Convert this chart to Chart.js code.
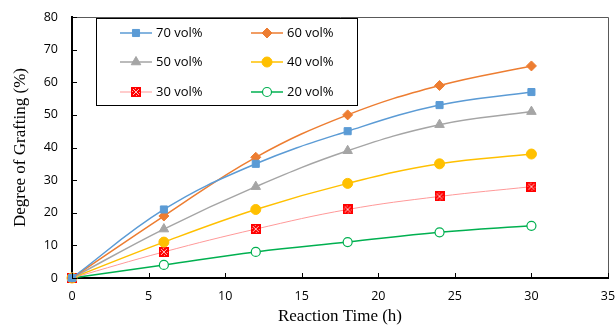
<!DOCTYPE html>
<html>
<head>
<meta charset="utf-8">
<script src="https://cdn.jsdelivr.net/npm/chart.js@4"></script>
<style>
  html, body { margin: 0; background: #fff; }
  #wrap { width: 616px; height: 329px; }
</style>
</head>
<body>
<div id="wrap"><canvas id="graftChart"></canvas></div>
<script>
const hours = [0, 6, 12, 18, 24, 30];
const seriesNames = ["70 vol%", "60 vol%", "50 vol%", "40 vol%", "30 vol%", "20 vol%"];
const vol70 = [0, 21, 35, 45, 53, 57];
const vol60 = [0, 19, 37, 50, 59, 65];
const vol50 = [0, 15, 28, 39, 47, 51];
const vol40 = [0, 11, 21, 29, 35, 38];
const vol30 = [0, 8, 15, 21, 25, 28];
const vol20 = [0, 4, 8, 11, 14, 16];

// red square with a light cross pattern for the 30 vol% marker
function hatchedSquare() {
  const c = document.createElement("canvas");
  c.width = 10;
  c.height = 10;
  const g = c.getContext("2d");
  g.fillStyle = "#ff0000";
  g.fillRect(0, 0, 10, 10);
  g.strokeStyle = "rgba(255,255,255,0.75)";
  g.lineWidth = 1;
  g.beginPath();
  g.moveTo(2, 2); g.lineTo(8, 8);
  g.moveTo(8, 2); g.lineTo(2, 8);
  g.stroke();
  g.fillStyle = "rgba(255,255,255,0.6)";
  [[1, 4], [4, 1], [8, 5], [5, 8]].forEach(([px, py]) => g.fillRect(px, py, 1, 1));
  return c;
}

const toPoints = (vals) => vals.map((v, i) => ({ x: hours[i], y: v }));

function series(name, vals, line, marker) {
  return Object.assign({
    label: name,
    data: toPoints(vals),
    borderColor: line,
    borderWidth: 1.5,
    tension: 0.4,
    clip: false,
    pointRadius: 4.5,
    pointBackgroundColor: line,
    pointBorderColor: line,
    pointBorderWidth: 1,
  }, marker);
}

const datasets = [
  series(seriesNames[0], vol70, "#5b9bd5", { pointStyle: "rect", pointRadius: 5 }),
  series(seriesNames[1], vol60, "#ed7d31", { pointStyle: "rectRot", pointRadius: 5 }),
  series(seriesNames[2], vol50, "#a5a5a5", { pointStyle: "triangle", pointRadius: 5.5 }),
  series(seriesNames[3], vol40, "#ffc000", { pointStyle: "circle", pointRadius: 5 }),
  series(seriesNames[4], vol30, "#ff9999", { pointStyle: hatchedSquare(), borderWidth: 1 }),
  series(seriesNames[5], vol20, "#00b050", { pointStyle: "circle", pointBackgroundColor: "#ffffff", pointBorderWidth: 1.2, pointRadius: 4.5 }),
];

// frame, inward tick marks and the boxed legend
const decorations = {
  id: "decorations",
  afterDraw(chart) {
    const { ctx, chartArea: a, scales } = chart;
    ctx.save();
    ctx.strokeStyle = "#595959";
    ctx.lineWidth = 1;
    ctx.beginPath();
    ctx.moveTo(a.left, a.top + 0.5);
    ctx.lineTo(a.right + 0.5, a.top + 0.5);
    ctx.lineTo(a.right + 0.5, a.bottom);
    ctx.stroke();

    ctx.strokeStyle = "#000";
    ctx.beginPath();
    scales.x.ticks.forEach((t) => {
      const px = Math.round(scales.x.getPixelForValue(t.value)) + 0.5;
      ctx.moveTo(px, a.bottom);
      ctx.lineTo(px, a.bottom - 5);
    });
    scales.y.ticks.forEach((t) => {
      const py = Math.round(scales.y.getPixelForValue(t.value)) + 0.5;
      ctx.moveTo(a.left, py);
      ctx.lineTo(a.left + 5, py);
    });
    ctx.stroke();

    // legend box
    ctx.fillStyle = "#fff";
    ctx.fillRect(96, 18, 262, 88);
    ctx.strokeStyle = "#000";
    ctx.strokeRect(96.5, 18.5, 261, 87);

    const colX = [120, 251];
    const rowY = [33, 62, 92];
    ctx.font = "13px 'Open Sans', sans-serif";
    ctx.textBaseline = "middle";
    chart.data.datasets.forEach((ds, i) => {
      const x = colX[i % 2];
      const y = rowY[Math.floor(i / 2)];
      ctx.strokeStyle = ds.borderColor;
      ctx.lineWidth = ds.borderWidth;
      ctx.beginPath();
      ctx.moveTo(x, y);
      ctx.lineTo(x + 32, y);
      ctx.stroke();
      ctx.fillStyle = ds.pointBackgroundColor;
      ctx.strokeStyle = ds.pointBorderColor;
      ctx.lineWidth = ds.pointBorderWidth;
      Chart.helpers.drawPoint(ctx, { pointStyle: ds.pointStyle, radius: ds.pointRadius, rotation: 0, borderWidth: ds.pointBorderWidth }, x + 16, y);
      ctx.fillStyle = "#000";
      ctx.textAlign = "left";
      ctx.fillText(ds.label, x + 36, y);
    });
    ctx.restore();
  },
};

new Chart(document.getElementById("graftChart"), {
  type: "line",
  data: { datasets },
  options: {
    responsive: true,
    maintainAspectRatio: false,
    animation: false,
    layout: { padding: { top: 17, right: 8, left: 0, bottom: 0 } },
    plugins: {
      legend: { display: false },
      tooltip: { enabled: false },
    },
    scales: {
      x: {
        type: "linear",
        min: 0,
        max: 35,
        ticks: {
          stepSize: 5,
          color: "#000",
          padding: 11,
          font: { family: "'Open Sans', sans-serif", size: 12.5 },
        },
        grid: { display: false, drawTicks: false },
        border: { color: "#000", width: 2 },
        title: {
          display: true,
          text: "Reaction Time (h)",
          color: "#000",
          padding: { top: 2, bottom: 2 },
          font: { family: "'Liberation Serif', serif", size: 17 },
        },
        afterFit(scale) {
          scale.height = 51;
          scale.paddingLeft = 0;
          scale.paddingRight = 0;
        },
      },
      y: {
        min: 0,
        max: 80,
        ticks: {
          stepSize: 10,
          color: "#000",
          padding: 14,
          font: { family: "'Open Sans', sans-serif", size: 12.5 },
        },
        grid: { display: false, drawTicks: false },
        border: { color: "#000", width: 2 },
        title: {
          display: true,
          text: "Degree of Grafting (%)",
          color: "#000",
          padding: { top: 10, bottom: 0 },
          font: { family: "'Liberation Serif', serif", size: 17 },
        },
        afterFit(scale) {
          scale.width = 72;
          scale.paddingTop = 0;
          scale.paddingBottom = 0;
        },
      },
    },
  },
  plugins: [decorations],
});
</script>
</body>
</html>
